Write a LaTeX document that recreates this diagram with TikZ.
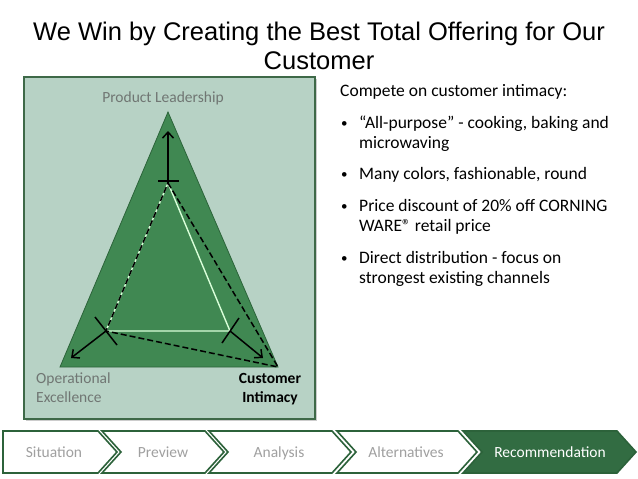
\documentclass[tikz,border=0pt]{standalone}
\usepackage{fontspec}
\setmainfont{Carlito}
\newfontfamily\titlefont{Liberation Sans}
\usetikzlibrary{arrows.meta}
\definecolor{panelfill}{RGB}{183,210,197}
\definecolor{paneledge}{RGB}{62,105,72}
\definecolor{trifill}{RGB}{64,136,82}
\definecolor{triedge}{RGB}{44,100,58}
\definecolor{labgrey}{RGB}{112,118,115}
\definecolor{chevgreen}{RGB}{44,98,58}
\definecolor{chevdark}{RGB}{50,108,66}
\definecolor{chevtext}{RGB}{160,160,160}
\tikzset{
  panel/.style={draw=paneledge, line width=1.8pt, fill=panelfill},
  chev/.style={draw=chevgreen, line width=1.6pt, fill=white, line join=miter},
  chevlabel/.style={font=\fontsize{15.5}{18}\selectfont, text=chevtext, anchor=base},
  cornerlabel/.style={font=\fontsize{15.5}{19}\selectfont, text=labgrey, inner sep=0pt},
  bodytext/.style={font=\fontsize{17.5}{20}\selectfont, inner sep=0pt, anchor=base west},
  pull/.style={line width=1.5pt, -{Straight Barb[length=6pt,width=11pt]}},
  bar/.style={line width=1.5pt},
  dashline/.style={line width=1.5pt, dash pattern=on 6pt off 3pt},
}

\begin{document}
\begin{tikzpicture}[x=1pt,y=-1pt]
\useasboundingbox (0,0) rectangle (638,479);
\node[font=\titlefont\fontsize{25.5}{29}\selectfont, anchor=base] (title1) at (319,40) {We Win by Creating the Best Total Offering for Our};
\node[font=\titlefont\fontsize{25.5}{29}\selectfont, anchor=base] (title2) at (319,69) {Customer};

\fill[black, opacity=0.2] (26,79) rectangle (317,421);
\draw[panel] (24,77) rectangle (315,419);

\coordinate (PL) at (168,112); \coordinate (OE) at (60,367); \coordinate (CI) at (278,367);
\coordinate (pl) at (168,183); \coordinate (oe) at (106,331); \coordinate (ci) at (230,331);
\coordinate (tpl) at (168,131); \coordinate (toe) at (71,358); \coordinate (tci) at (263,358);
\draw[fill=trifill, draw=triedge, line width=0.8pt] (PL)--(OE)--(CI)--cycle;
\draw[white!85!green, line width=1.4pt] (pl)--(oe)--(ci)--cycle;
\draw[dashline] (pl)--(CI)--(oe)--cycle;
\draw[pull] (pl)--(tpl);
\draw[pull] (oe)--(toe);
\draw[pull] (ci)--(tci);
\draw[bar] (158,181)--(179,181);
\draw[bar] (95,317)--(117,345);
\draw[bar] (222,343)--(239,318);

\node[cornerlabel, anchor=base] (lead) at (163,102) {Product Leadership};
\node[cornerlabel, anchor=base west] (oper) at (36,383) {Operational};
\node[cornerlabel, anchor=base west] (excel) at (36,402) {Excellence};
\node[cornerlabel, anchor=base, text=black, font=\fontsize{15.5}{19}\selectfont\bfseries] (cust) at (270,383) {Customer};
\node[cornerlabel, anchor=base, text=black, font=\fontsize{15.5}{19}\selectfont\bfseries] (intim) at (270,402) {Intimacy};

\node[bodytext] (compete) at (340,96) {Compete on customer intimacy:};
\foreach \y in {128,179,211,263}
  \node[bodytext, font=\fontsize{13}{13}\selectfont] (dot\y) at (341,{\y-1}) {\textbullet};
\foreach \y/\txt in {128/{“All-purpose” - cooking, baking and}, 148/{microwaving},
    179/{Many colors, fashionable, round}, 211/{Price discount of 20\% off CORNING},
    231/{WARE® retail price}, 263/{Direct distribution - focus on},
    283/{strongest existing channels}}
  \node[bodytext] (line\y) at (359,\y) {\txt};

\draw[chev] (3,431)--(98,431)--(117,452)--(98,473)--(3,473)--cycle;
\foreach \l/\r in {102/205, 209/332, 337/458}
  \draw[chev] (\l,431)--(\r,431)--({\r+19},452)--(\r,473)--(\l,473)--({\l+19},452)--cycle;
\draw[chev, fill=chevdark, draw=chevgreen] (463,431)--(617,431)--(636,452)--(617,473)--(463,473)--(482,452)--cycle;
\node[chevlabel] (sit) at (54,457) {Situation};
\node[chevlabel] (prev) at (163,457) {Preview};
\node[chevlabel] (anal) at (279,457) {Analysis};
\node[chevlabel] (alt) at (406,457) {Alternatives};
\node[chevlabel, text=white] (rec) at (550,457) {Recommendation};
\end{tikzpicture}
\end{document}
